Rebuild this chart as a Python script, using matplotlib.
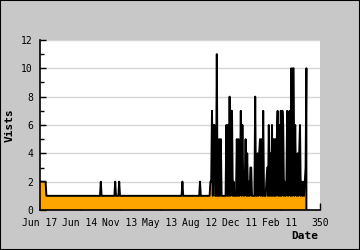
import numpy as np
import matplotlib
matplotlib.use('Agg')
import matplotlib.pyplot as plt
from matplotlib.ticker import MultipleLocator

# x tick labels (every 50 points)
tick_pos = [0, 50, 100, 150, 200, 250, 300, 350]
tick_labels = ['Jun 17', 'Jun 14', 'Nov 13', 'May 13', 'Aug 12', 'Dec 11', 'Feb 11', '350']

# quiet period: visits are 1 per point except these
n_quiet = 212
quiet_spike_idx = [0, 1, 2, 3, 4, 5, 6, 7, 76, 94, 99, 178, 200]
quiet_spike_val = [2, 2, 2, 2, 2, 2, 2, 2, 2, 2, 2, 2, 2]

# busy period, points 212..333
busy_visits = [
    1, 2, 2, 7, 1, 6, 6, 1, 1, 11, 1, 1, 5, 1, 5, 1, 1, 1, 1, 1,
    1, 6, 1, 6, 1, 8, 1, 7, 7, 1, 2, 1, 1, 1, 5, 1, 5, 1, 2, 7,
    1, 6, 2, 1, 2, 5, 1, 4, 1, 2, 1, 3, 3, 1, 1, 1, 1, 8, 1, 1,
    4, 1, 4, 5, 1, 5, 1, 7, 1, 1, 1, 2, 3, 1, 6, 1, 4, 1, 6, 1,
    5, 1, 5, 1, 5, 7, 1, 6, 1, 7, 1, 7, 6, 1, 2, 1, 2, 7, 1, 3,
    7, 1, 10, 1, 10, 10, 1, 6, 2, 1, 4, 1, 4, 6, 1, 2, 1, 2, 1, 2,
    3, 10,
]

quiet = np.ones(n_quiet)
quiet[quiet_spike_idx] = quiet_spike_val
visits = np.concatenate([quiet, busy_visits])
x = np.arange(len(visits))

fig = plt.figure(figsize=(3.6, 2.5), dpi=100, facecolor='#c8c8c8')
fig.patches.append(plt.Rectangle((0, 0), 1, 1, transform=fig.transFigure,
                                 fill=False, edgecolor='black', linewidth=1.5))
ax = fig.add_axes([40/360, 40/250, 280/360, 170/250])
ax.set_facecolor('white')

# closed polygon so the last point drops down to the axis
xs = np.concatenate([x, [x[-1], 0]])
ys = np.concatenate([visits, [0, 0]])
ax.fill(xs, ys, facecolor='#ffa500', edgecolor='none', zorder=2)
ax.plot(np.append(x, x[-1]), np.append(visits, 0), color='black', linewidth=1.4, zorder=3)

ax.set_xlim(0, 350)
ax.set_ylim(0, 12)
ax.set_xticks(tick_pos)
ax.set_xticklabels(tick_labels)
ax.yaxis.set_major_locator(MultipleLocator(2))
ax.yaxis.set_minor_locator(MultipleLocator(1))
ax.grid(axis='y', color='#d6d6d6', linewidth=1, zorder=1)
ax.set_axisbelow(True)

for s in ['top', 'right']:
    ax.spines[s].set_visible(False)
for s in ['left', 'bottom']:
    ax.spines[s].set_linewidth(1.2)
    ax.spines[s].set_zorder(4)

mono = 'DejaVu Sans Mono'
ax.tick_params(axis='x', direction='in', length=5, width=1, pad=6, labelsize=7)
ax.tick_params(axis='y', which='major', direction='in', length=4, width=1, pad=5, labelsize=7)
ax.tick_params(axis='y', which='minor', direction='in', length=3, width=1)
for lab in ax.get_xticklabels() + ax.get_yticklabels():
    lab.set_fontfamily(mono)

fig.text(10/360, 1 - 125/250, 'Vists', rotation=90, ha='center', va='center',
         fontsize=8, fontweight='bold', family=mono)
fig.text(305/360, 1 - 236/250, 'Date', ha='center', va='center',
         fontsize=8, fontweight='bold', family=mono)

fig.savefig('out.png', dpi=100, facecolor=fig.get_facecolor())
